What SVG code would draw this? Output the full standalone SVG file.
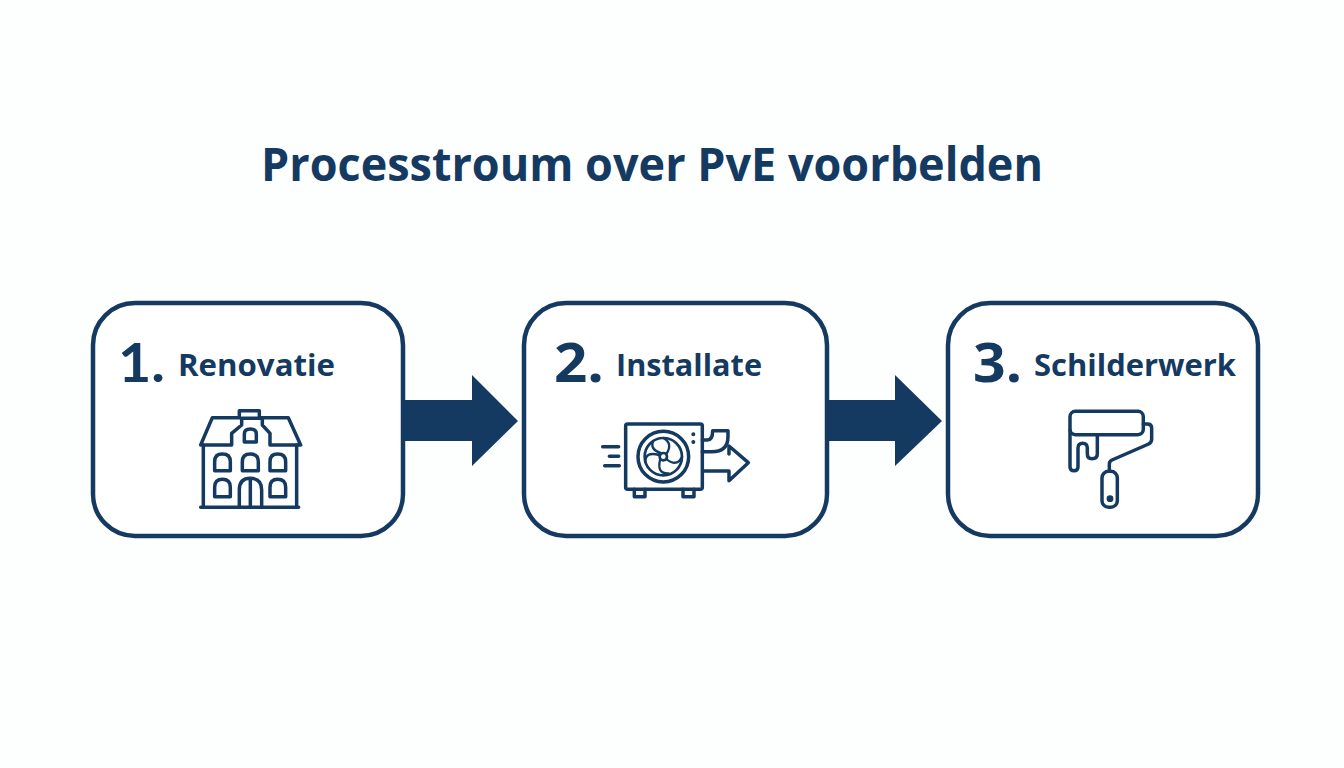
<svg xmlns="http://www.w3.org/2000/svg" width="1344" height="768" viewBox="0 0 1344 768">
<style>
.box{fill:#fff;stroke:#153a62;stroke-width:4.5}
.ic{fill:none;stroke:#153a62;stroke-width:10.5;stroke-linejoin:round;stroke-linecap:round}
.ar{fill:#153a62}
.dot{fill:#153a62;stroke-width:4}
text{fill:#153a62;font-family:"Open Sans","Noto Sans",sans-serif;font-weight:700}
.n{font-size:53px}
.l{font-size:30px}
</style>
<rect width="1344" height="768" fill="#fdfefe"/>
<text id="title" x="261" y="181" font-size="46" textLength="782" lengthAdjust="spacingAndGlyphs">Processtroum over PvE voorbelden</text>
<g id="connectors">
<path class="ar" d="M403 400H472V375L518 421L472 466V441H403Z"/>
<path class="ar" d="M827 400H895V375L942 421L895 466V441H827Z"/>
</g>
<g id="node1">
<rect class="box" x="93" y="303" width="310" height="233" rx="42"/>
<text class="n" x="118" y="382" textLength="47" lengthAdjust="spacingAndGlyphs" style="font-family:Lato,'Open Sans',sans-serif;font-size:54px">1.</text>
<text class="l" x="178" y="376" textLength="157" lengthAdjust="spacingAndGlyphs">Renovatie</text>
<g class="ic" transform="translate(180 400) scale(.3333)">
<path d="M62 135L97 53H178V32H238V53H325L362 135H270V100L247 75V55H185V75L155 100V135Z"/>
<path d="M70 135V322M350 135V322M62 322H356"/>
<path d="M193 126V102Q193 87 211 87Q229 87 229 102V126Z"/>
<path d="M104 212V185Q104 162 127 162Q151 162 151 185V212Z"/>
<path d="M187 212V185Q187 162 211 162Q235 162 235 185V212Z"/>
<path d="M270 212V185Q270 162 293 162Q317 162 317 185V212Z"/>
<path d="M104 290V262Q104 238 127 238Q151 238 151 262V290Z"/>
<path d="M270 290V262Q270 238 293 238Q317 238 317 262V290Z"/>
<path d="M178 322V270Q178 235 211 235Q245 235 245 270V322M211 235V322"/>
</g>
</g>
<g id="node2">
<rect class="box" x="524" y="303" width="303" height="233" rx="42"/>
<text class="n" x="554" y="382" textLength="50" lengthAdjust="spacingAndGlyphs">2.</text>
<text class="l" x="616" y="376" textLength="146" lengthAdjust="spacingAndGlyphs">Installate</text>
<g class="ic" transform="translate(590 410) scale(.3333)">
<rect x="107" y="42" width="230" height="196" rx="6"/>
<path d="M133 238V260H165V238M279 238V260H312V238"/>
<circle cx="220" cy="140" r="76"/><circle cx="220" cy="140" r="56" stroke-width="8"/><circle cx="220" cy="140" r="11" stroke-width="8"/>
<path stroke-width="7" d="M220 84Q250 100 229 132M276 140Q262 172 230 148M236 190Q200 192 210 150M166 156Q166 122 210 136M190 93Q178 118 214 130"/>
<path d="M38 110H86M58 139H86M44 167H88"/>
<path d="M337 90H352Q368 90 368 62H414V80Q414 125 365 125H337"/>
<path d="M340 183H417V212L475 158L417 108V132"/>
<circle class="dot" cx="310" cy="73" r="4"/><circle class="dot" cx="310" cy="96" r="4"/>
</g>
</g>
<g id="node3">
<rect class="box" x="948" y="303" width="310" height="233" rx="42"/>
<text class="n" x="973" y="382" textLength="49" lengthAdjust="spacingAndGlyphs">3.</text>
<text class="l" x="1034" y="376" textLength="202" lengthAdjust="spacingAndGlyphs">Schilderwerk</text>
<g class="ic" transform="translate(1050 400) scale(.3333)">
<rect x="60" y="34" width="220" height="70" rx="16"/>
<path d="M60 90V200Q60 212 72 212Q84 212 84 200V145Q84 130 98 130Q112 130 112 145V162Q112 176 126 176Q142 176 142 162V104"/>
<path d="M280 72H292Q305 72 305 84V118Q305 128 296 132L186 180Q178 184 178 192V214"/>
<rect x="156" y="214" width="46" height="108" rx="20"/>
<circle cx="180" cy="296" r="5" fill="#153a62"/>
</g>
</g>
</svg>
